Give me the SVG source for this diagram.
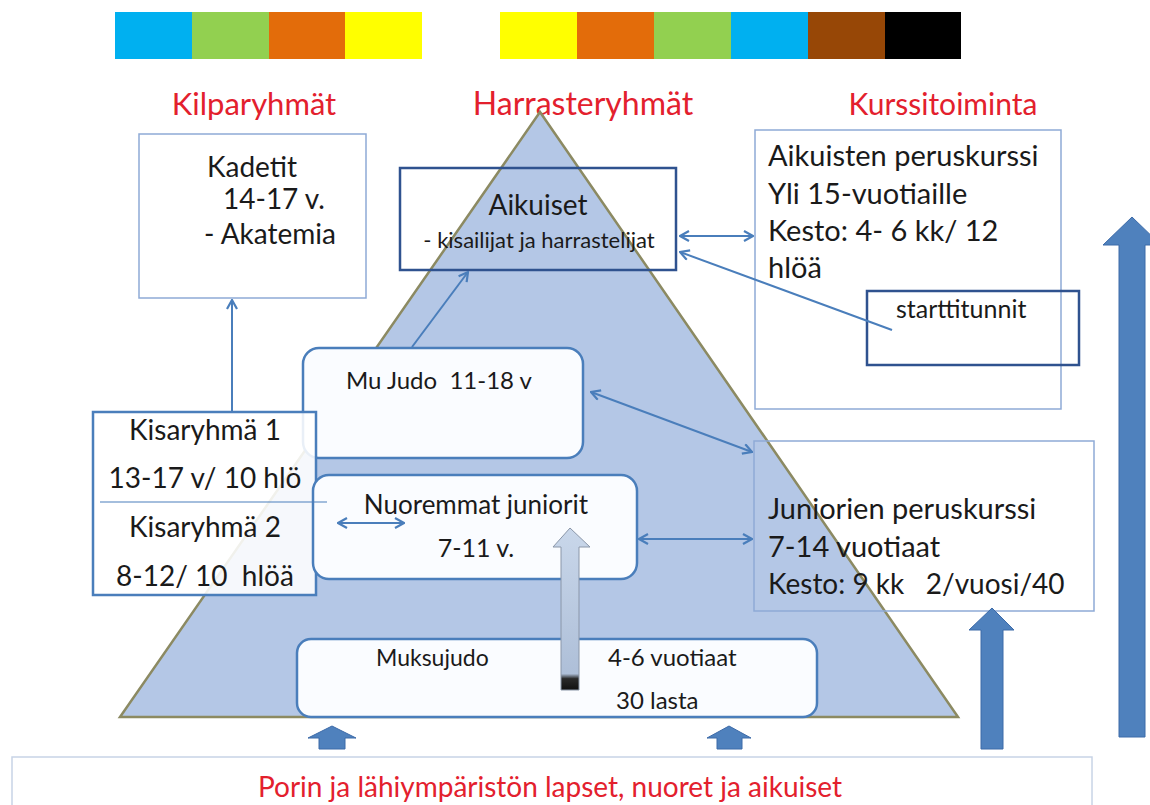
<svg xmlns="http://www.w3.org/2000/svg" width="1150" height="805" viewBox="0 0 1150 805">
<defs>
<style>
.t{font-family:Lato,"Open Sans","Liberation Sans",sans-serif;fill:#1a1a1a}
.red{font-family:Lato,"Open Sans","Liberation Sans",sans-serif;fill:#e3202d}
.thin{fill:#fff;stroke:#8eaad6;stroke-width:1.5}
.dark{fill:none;stroke:#2f528f;stroke-width:2.5}
.rnd{fill:#fafcff;stroke:#4a7ebb;stroke-width:2.5}
.con{fill:none;stroke:#4a7ebb;stroke-width:2}
.blk{fill:#4f81bd;stroke:#3c6aa8;stroke-width:1}
</style>
<marker id="ah" viewBox="0 0 12 12" refX="11" refY="6" markerWidth="12" markerHeight="12" markerUnits="userSpaceOnUse" orient="auto-start-reverse">
<path d="M2,1 L11,6 L2,11" fill="none" stroke="#4a7ebb" stroke-width="2.2"/>
</marker>
<linearGradient id="gg" x1="0" y1="0" x2="0" y2="1">
<stop offset="0" stop-color="#c9d7ea"/>
<stop offset="0.9" stop-color="#aebfd8"/>
<stop offset="0.93" stop-color="#2a2a2a"/>
<stop offset="1" stop-color="#111"/>
</linearGradient>
</defs>
<rect width="1150" height="805" fill="#fff"/>
<g id="colorbars">
<rect x="115" y="12" width="77" height="47" fill="#00b0f0"/>
<rect x="192" y="12" width="77" height="47" fill="#92d050"/>
<rect x="269" y="12" width="76" height="47" fill="#e36c0a"/>
<rect x="345" y="12" width="77" height="47" fill="#ffff00"/>
<rect x="500" y="12" width="77" height="47" fill="#ffff00"/>
<rect x="577" y="12" width="77" height="47" fill="#e36c0a"/>
<rect x="654" y="12" width="77" height="47" fill="#92d050"/>
<rect x="731" y="12" width="77" height="47" fill="#00b0f0"/>
<rect x="808" y="12" width="77" height="47" fill="#974706"/>
<rect x="885" y="12" width="76" height="47" fill="#000"/>
</g>
<g id="titles">
<text class="red" x="254" y="115" font-size="31" text-anchor="middle">Kilparyhmät</text>
<text class="red" x="583" y="115" font-size="32" text-anchor="middle">Harrasteryhmät</text>
<text class="red" x="943" y="115" font-size="30" text-anchor="middle">Kurssitoiminta</text>
</g>
<g id="pyramid">
<polygon points="540,112 120,717 958,717" fill="#b4c7e6" stroke="#8c8a62" stroke-width="2.5"/>
</g>
<g id="kadetit">
<rect class="thin" x="139" y="134" width="227" height="164"/>
<text class="t" x="207" y="177" font-size="28">Kadetit</text>
<text class="t" x="223" y="209" font-size="28">14-17 v.</text>
<text class="t" x="204" y="244" font-size="28">- Akatemia</text>
</g>
<g id="aikuiset">
<rect class="dark" x="400" y="168" width="276" height="102"/>
<text class="t" x="538" y="215" font-size="28" text-anchor="middle">Aikuiset</text>
<text class="t" x="539" y="248" font-size="22" text-anchor="middle">- kisailijat ja harrastelijat</text>
</g>
<g id="kurssi">
<rect class="thin" x="755" y="130" width="306" height="279"/>
<text class="t" x="768" y="166" font-size="29">Aikuisten peruskurssi</text>
<text class="t" x="768" y="204" font-size="29">Yli 15-vuotiaille</text>
<text class="t" x="768" y="241" font-size="29">Kesto: 4- 6 kk/ 12</text>
<text class="t" x="768" y="278" font-size="29">hlöä</text>
</g>
<g id="starttitunnit">
<rect class="dark" x="867" y="291" width="212" height="74"/>
<text class="t" x="896" y="318" font-size="25">starttitunnit</text>
</g>
<g id="mujudo">
<rect class="rnd" x="303" y="348" width="280" height="110" rx="16"/>
<text class="t" x="346" y="389" font-size="24" xml:space="preserve">Mu Judo  11-18 v</text>
</g>
<g id="kisaryhma">
<rect x="93" y="412" width="223" height="183" fill="#fff" fill-opacity="0.88" stroke="#4a7ebb" stroke-width="2.5"/>
<text class="t" x="205" y="440" font-size="28" text-anchor="middle">Kisaryhmä 1</text>
<text class="t" x="205" y="488" font-size="28" text-anchor="middle">13-17 v/ 10 hlö</text>
<text class="t" x="205" y="537" font-size="28" text-anchor="middle">Kisaryhmä 2</text>
<text class="t" x="205" y="586" font-size="28" text-anchor="middle" xml:space="preserve">8-12/ 10  hlöä</text>
</g>
<g id="nuoremmat">
<rect class="rnd" x="313" y="475" width="324" height="104" rx="16"/>
<text class="t" x="476" y="514" font-size="26" text-anchor="middle">Nuoremmat juniorit</text>
<text class="t" x="476" y="557" font-size="25" text-anchor="middle">7-11 v.</text>
</g>
<line x1="100" y1="502" x2="327" y2="502" stroke="#4a7ebb" stroke-width="1.2"/>
<g id="juniorien">
<rect x="754" y="441" width="340" height="170" fill="none" stroke="#8eaad6" stroke-width="1.5"/>
<text class="t" x="768" y="519" font-size="29">Juniorien peruskurssi</text>
<text class="t" x="768" y="557" font-size="29">7-14 vuotiaat</text>
<text class="t" x="768" y="594" font-size="28" xml:space="preserve">Kesto: 9 kk   2/vuosi/40</text>
</g>
<g id="muksujudo">
<rect class="rnd" x="297" y="639" width="520" height="78" rx="14"/>
<text class="t" x="376" y="666" font-size="23">Muksujudo</text>
<text class="t" x="608" y="666" font-size="24">4-6 vuotiaat</text>
<text class="t" x="616" y="709" font-size="24">30 lasta</text>
</g>
<g id="bottom">
<rect x="12" y="757" width="1080" height="60" fill="#fff" stroke="#c8d4e6" stroke-width="1.5"/>
<text class="red" x="550" y="797" font-size="28" text-anchor="middle">Porin ja lähiympäristön lapset, nuoret ja aikuiset</text>
</g>
<g id="connectors">
<line class="con" x1="232" y1="412" x2="232" y2="300" marker-end="url(#ah)"/>
<line class="con" x1="412" y1="347" x2="468" y2="272" marker-end="url(#ah)"/>
<line class="con" x1="680" y1="236" x2="753" y2="236" marker-start="url(#ah)" marker-end="url(#ah)"/>
<line class="con" x1="892" y1="330" x2="680" y2="252" marker-end="url(#ah)"/>
<line class="con" x1="591" y1="392" x2="752" y2="452" marker-start="url(#ah)" marker-end="url(#ah)"/>
<line class="con" x1="639" y1="539" x2="752" y2="539" marker-start="url(#ah)" marker-end="url(#ah)"/>
<line class="con" x1="338" y1="523" x2="404" y2="523" marker-start="url(#ah)" marker-end="url(#ah)"/>
<polygon points="570,528 590,547 579,547 579,690 561,690 561,547 553,547" fill="url(#gg)" stroke="#8a96a8" stroke-width="1"/>
<polygon class="blk" points="332,726 356,738 345,738 345,749 319,749 319,738 308,738"/>
<polygon class="blk" points="729,726 751,738 742,738 742,749 717,749 717,738 707,738"/>
<polygon class="blk" points="992,608 1014,630 1003,630 1003,749 981,749 981,630 969,630"/>
<polygon class="blk" points="1132,217 1161,245 1145,245 1145,737 1119,737 1119,245 1103,245"/>
</g>
</svg>
